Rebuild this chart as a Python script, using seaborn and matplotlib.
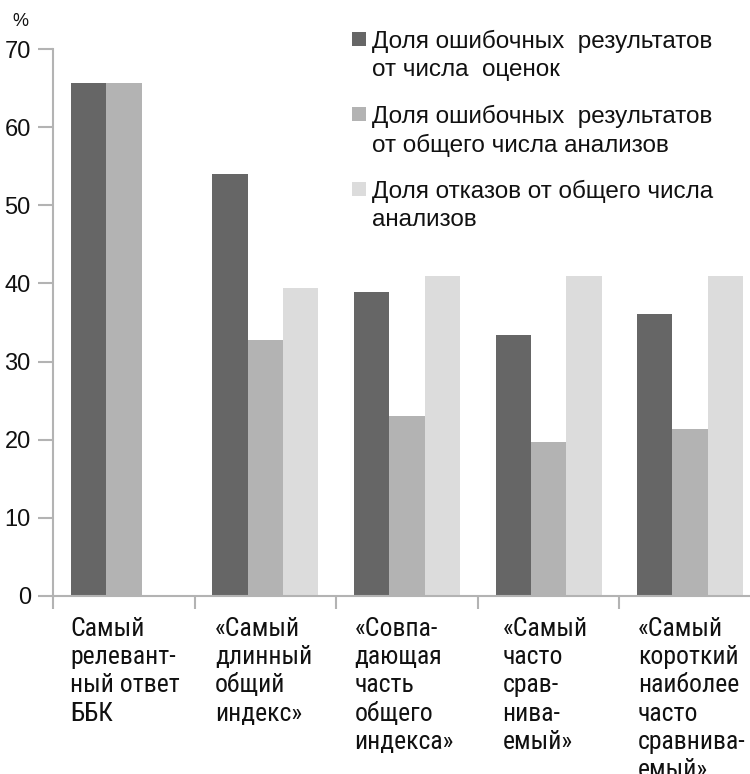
import matplotlib
matplotlib.use('Agg')
import matplotlib.pyplot as plt
import matplotlib.transforms as mtransforms
from matplotlib.patches import Rectangle
import seaborn as sns
import pandas as pd
import numpy as np

# data
categories = ['Самый\nрелевант-\nный ответ\nББК',
              '«Самый\nдлинный\nобщий\nиндекс»',
              '«Совпа-\nдающая\nчасть\nобщего\nиндекса»',
              '«Самый\nчасто\nсрав-\nнива-\nемый»',
              '«Самый\nкороткий\nнаиболее\nчасто\nсравнива-\nемый»']
series = ['Доля ошибочных  результатов\nот числа  оценок',
          'Доля ошибочных  результатов\nот общего числа анализов',
          'Доля отказов от общего числа\nанализов']
err_of_estimates = [65.6, 54.0, 38.9, 33.4, 36.1]
err_of_analyses = [65.6, 32.8, 23.0, 19.7, 21.4]
refusals = [np.nan, 39.4, 41.0, 41.0, 41.0]
colors = ['#666666', '#b3b3b3', '#dcdcdc']

df = pd.DataFrame({
    'cat': categories * 3,
    'series': [series[0]] * 5 + [series[1]] * 5 + [series[2]] * 5,
    'value': err_of_estimates + err_of_analyses + refusals,
})

sns.set_style('white')
plt.rcParams['font.family'] = ['Liberation Sans', 'DejaVu Sans']

W, H = 750, 774
fig = plt.figure(figsize=(W / 100, H / 100), dpi=100)
ax = fig.add_axes([53 / W, 178 / H, 708 / W, 547 / H])

sns.barplot(data=df, x='cat', y='value', hue='series', palette=colors,
            width=0.75, gap=0, saturation=1, ax=ax, legend=False)
for p in ax.patches:
    p.set_edgecolor('none')

ax.set_xlim(-0.5, 4.5)
ax.set_ylim(0, 70)
ax.set_yticks(range(0, 71, 10))
ax.set_xlabel('')
ax.set_ylabel('')
ax.set_xticks([])
ax.set_xticks(np.arange(-0.5, 5, 1), minor=True)
ax.tick_params(axis='x', which='minor', length=9, width=1.5, color='#b3b3b3', bottom=True)
ax.tick_params(axis='y', length=11, width=1.5, color='#b3b3b3', labelsize=17,
               pad=5, left=True, labelcolor='#111111')
for side in ['top', 'right']:
    ax.spines[side].set_visible(False)
for side in ['left', 'bottom']:
    ax.spines[side].set_color('#b3b3b3')
    ax.spines[side].set_linewidth(1.5)

# category labels, left aligned under each group
trans = mtransforms.blended_transform_factory(ax.transData, fig.transFigure)
offsets = [0.12, 0.145, 0.13, 0.175, 0.13]
for i, (lab, off) in enumerate(zip(categories, offsets)):
    ax.text(i - 0.5 + off, 1 - 617 / H, lab, transform=trans, ha='left', va='top',
            fontsize=18.5, linespacing=1.22,
            family=['Liberation Sans Narrow', 'Roboto Condensed', 'Liberation Sans', 'DejaVu Sans'],
            color='#111111')

fig.text(12 / W, 1 - 13 / H, '%', fontsize=13, va='top', ha='left', color='#111111')

# legend drawn by hand: square next to first line of each entry
for k, (lab, col) in enumerate(zip(series, colors)):
    top = 32 + 75 * k
    fig.patches.append(Rectangle((352 / W, 1 - (top + 14) / H), 14 / W, 14 / H,
                                 transform=fig.transFigure, facecolor=col,
                                 edgecolor='none'))
    fig.text(372 / W, 1 - (top - 2) / H, lab, fontsize=17.5, va='top', ha='left',
             linespacing=1.32, color='#111111')

fig.savefig('out.png', dpi=100)
